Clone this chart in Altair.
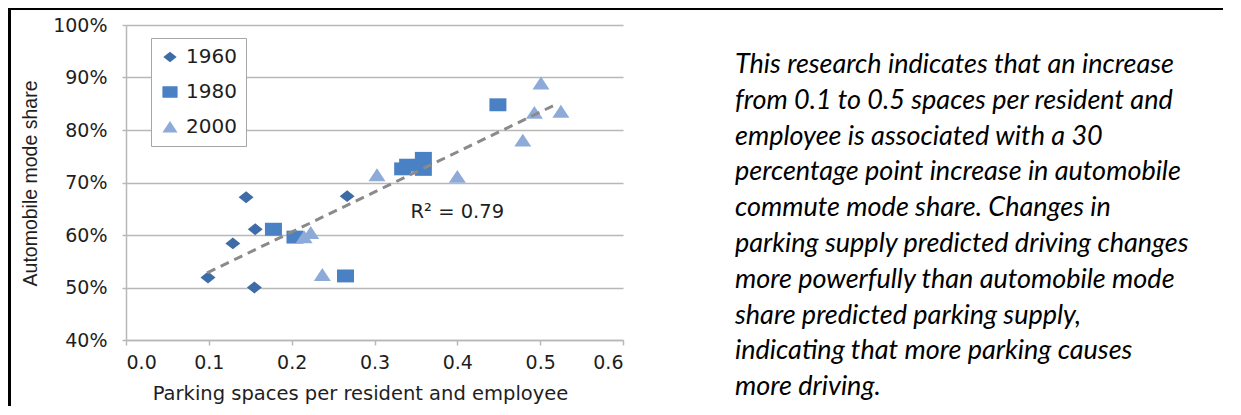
import altair as alt
import pandas as pd

# ---------------- data ----------------
years = ["1960", "1980", "2000"]
x_1960 = [0.099, 0.129, 0.145, 0.156, 0.155, 0.267]
y_1960 = [51.9, 58.4, 67.2, 61.1, 50.0, 67.4]
x_1980 = [0.178, 0.204, 0.265, 0.334, 0.340, 0.359, 0.359, 0.449]
y_1980 = [61.1, 59.6, 52.2, 72.6, 73.3, 74.6, 72.5, 84.8]
x_2000 = [0.215, 0.223, 0.237, 0.303, 0.400, 0.479, 0.493, 0.501, 0.525]
y_2000 = [59.6, 60.4, 52.4, 71.4, 71.1, 78.0, 83.3, 88.9, 83.5]
trend_x = [0.098, 0.522]
trend_y = [52.8, 85.1]
r2_label = ["R\u00b2 = 0.79"]
r2_x = [0.40]
r2_y = [64.4]
x_ticks = [0.0, 0.1, 0.2, 0.3, 0.4, 0.5, 0.6]
y_ticks = [40, 50, 60, 70, 80, 90, 100]
x_title = "Parking spaces per resident and employee"
y_title = "Automobile mode share"
note_lines = [
    "This research indicates that an increase",
    "from 0.1 to 0.5 spaces per resident and",
    "employee is associated with a 30",
    "percentage point increase in automobile",
    "commute mode share. Changes in",
    "parking supply predicted driving changes",
    "more powerfully than automobile mode",
    "share predicted parking supply,",
    "indicating that more parking causes",
    "more driving.",
]

# ---------------- tables ----------------
rows = []
for yr, xs_, ys_ in zip(years, [x_1960, x_1980, x_2000], [y_1960, y_1980, y_2000]):
    for a, b in zip(xs_, ys_):
        rows.append({"year": yr, "x": a, "y": b})
pts = pd.DataFrame(rows)
trend = pd.DataFrame({"x": trend_x, "y": trend_y})
r2 = pd.DataFrame({"x": r2_x, "y": r2_y, "t": r2_label})

W, H = 497, 315
PB = 66
colors = ["#3e6ca6", "#4a80c4", "#8eaad8"]
shapes = [
    "M-0.88,0L0,-0.7L0.88,0L0,0.7Z",
    "M-1,-0.76L1,-0.76L1,0.76L-1,0.76Z",
    "M0,-0.8L1,0.72L-1,0.72Z",
]
grey = "#b8b8b8"
txt = "#1e1e1e"

xs = alt.Scale(domain=[0, 0.6], nice=False, zero=False)
ys = alt.Scale(domain=[40, 100], nice=False, zero=False)

leg = alt.Legend(
    title=None, orient="none", legendX=25, legendY=13,
    strokeColor="#a6a6a6", fillColor="white", padding=9, rowPadding=15,
    labelFont="DejaVu Sans", labelFontSize=20, labelColor=txt, labelOffset=6,
    symbolSize=230, symbolStrokeWidth=0, symbolOpacity=1,
)

xaxis = alt.Axis(
    values=x_ticks, format=".1f", title=x_title, grid=False,
    domainColor=grey, domainWidth=1.5, tickColor=grey, tickWidth=1.5, tickSize=5,
    labelFont="DejaVu Sans", labelFontSize=19, labelColor=txt, labelPadding=8,
    titleFont="DejaVu Sans", titleFontSize=19.5, titleFontWeight="normal",
    titleColor=txt, titlePadding=12, titleX=234,
)
yaxis = alt.Axis(
    values=y_ticks, labelExpr="datum.value + '%'", title=y_title, grid=True,
    gridColor=grey, gridWidth=1.5,
    domainColor=grey, domainWidth=1.5, tickColor=grey, tickWidth=1.5, tickSize=4,
    labelFont="DejaVu Sans", labelFontSize=19, labelColor=txt, labelPadding=15,
    titleFont="Liberation Sans", titleFontSize=19.5, titleFontWeight="normal",
    titleColor=txt, titleX=-96, titleY=158, titleAngle=-90,
    titleAlign="center", titleBaseline="middle",
)

points = alt.Chart(pts).mark_point(filled=True, opacity=1, size=289, strokeWidth=0).encode(
    x=alt.X("x:Q", scale=xs, axis=xaxis),
    y=alt.Y("y:Q", scale=ys, axis=yaxis),
    color=alt.Color("year:N", scale=alt.Scale(domain=years, range=colors), legend=leg),
    shape=alt.Shape("year:N", scale=alt.Scale(domain=years, range=shapes), legend=leg),
)

trend_line = alt.Chart(trend).mark_line(
    color="#8a8a8a", strokeWidth=3, strokeDash=[9, 6]
).encode(x=alt.X("x:Q", scale=xs), y=alt.Y("y:Q", scale=ys))

r2_text = alt.Chart(r2).mark_text(
    font="DejaVu Sans", fontSize=19.5, color=txt
).encode(x=alt.X("x:Q", scale=xs), y=alt.Y("y:Q", scale=ys), text="t:N")

note = alt.Chart(pd.DataFrame({"k": [0]})).mark_text(
    text=note_lines, align="left", baseline="alphabetic",
    font="Lato", fontStyle="italic", fontSize=27, lineHeight=35.8, color="black",
).encode(x=alt.value(609), y=alt.value(48))

left_border = alt.Chart(pd.DataFrame({"k": [0]})).mark_rule(
    color="black", strokeWidth=3
).encode(x=alt.value(-116.5), y=alt.value(-17), y2=alt.value(H + PB))

top_border = alt.Chart(pd.DataFrame({"k": [0]})).mark_rule(
    color="black", strokeWidth=2
).encode(x=alt.value(-118), x2=alt.value(W + 600), y=alt.value(-16))

chart = alt.layer(points, trend_line, r2_text, note, left_border, top_border).properties(
    width=W, height=H,
    padding={"left": 118, "top": 17, "right": 600, "bottom": PB},
    autosize=alt.AutoSizeParams(type="none"),
    background="white",
).configure_view(stroke=None)

chart.save("out.html", embed_options={"renderer": "svg", "actions": False})
